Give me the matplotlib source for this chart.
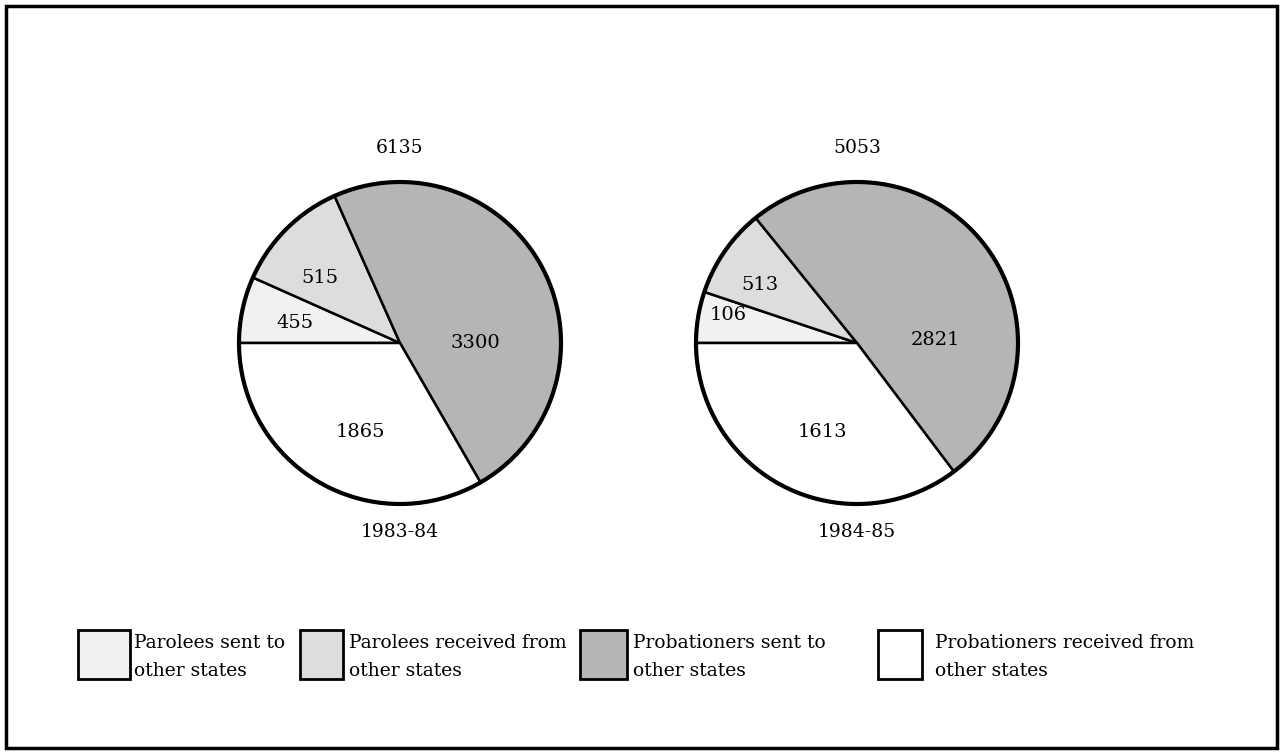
import matplotlib.pyplot as plt
from matplotlib.patches import Rectangle, Circle

# printed counts (clockwise from the left horizontal)
categories = ['Parolees sent to\nother states', 'Parolees received from\nother states',
              'Probationers sent to\nother states', 'Probationers received from\nother states']
years = ['1983-84', '1984-85']
totals = [6135, 5053]
counts_8384 = [455, 515, 3300, 1865]
counts_8485 = [106, 513, 2821, 1613]
# the wedges as drawn in the original (degrees), which is not exactly proportional
drawn_8384 = [24, 42, 174, 120]
drawn_8485 = [18.5, 32.5, 182, 127]

colors = ['#f1f1f1', '#dddddd', '#b5b5b5', '#ffffff']

W, H = 1281, 756
fig = plt.figure(figsize=(W / 100, H / 100), dpi=100)
ax = fig.add_axes([0, 0, 1, 1])

font = dict(family='DejaVu Serif', color='black')
R = 161

# label offsets from pie centre (px): x right, y up
off_8384 = [(-105, 20), (-80, 65), (75, 0), (-40, -89)]
off_8485 = [(-129, 28), (-97, 58), (78, 3), (-35, -89)]

pies = [(400, drawn_8384, counts_8384, off_8384),
        (857, drawn_8485, counts_8485, off_8485)]

for i, (cx, drawn, counts, offs) in enumerate(pies):
    cy = H - 343
    ax.pie(drawn, colors=colors, startangle=180, counterclock=False,
           center=(cx, cy), radius=R, frame=True,
           wedgeprops=dict(edgecolor='black', linewidth=1.8))
    ax.add_patch(Circle((cx, cy), R, fill=False, edgecolor='black', linewidth=3, zorder=5))
    for c, (dx, dy) in zip(counts, offs):
        ax.text(cx + dx, cy + dy, str(c), ha='center', va='center', fontsize=14, **font)
    ax.text(cx, H - 148, str(totals[i]), ha='center', va='center', fontsize=13.5, **font)
    ax.text(cx, H - 532, years[i], ha='center', va='center', fontsize=13.5, **font)

ax.set_xlim(0, W)
ax.set_ylim(0, H)
ax.set_aspect('equal')
ax.axis('off')

# legend
boxes = [(78, 130), (300, 343), (580, 627), (878, 922)]
text_x = [134, 349, 633, 935]
for (x0, x1), tx, col, lab in zip(boxes, text_x, colors, categories):
    ax.add_patch(Rectangle((x0, H - 679), x1 - x0, 49, facecolor=col,
                           edgecolor='black', linewidth=2))
    l1, l2 = lab.split('\n')
    ax.text(tx, H - 648, l1, ha='left', va='baseline', fontsize=13.5, **font)
    ax.text(tx, H - 676, l2, ha='left', va='baseline', fontsize=13.5, **font)

# outer frame
ax.add_patch(Rectangle((6, H - 748), 1271, 742, fill=False, edgecolor='black', linewidth=2.5))

fig.savefig('out.png', dpi=100)
